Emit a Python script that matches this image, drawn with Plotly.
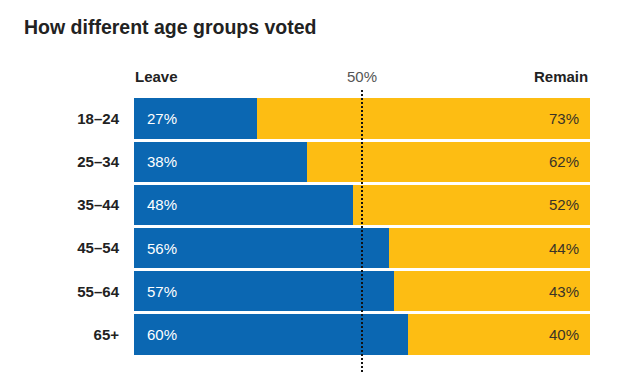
import plotly.graph_objects as go

age_groups = ["18–24", "25–34", "35–44", "45–54", "55–64", "65+"]
leave = [27, 38, 48, 56, 57, 60]
remain = [73, 62, 52, 44, 43, 40]

BLUE = "#0b67b2"
YELLOW = "#fdbd13"
FONT = "Liberation Sans, Arial, Helvetica, sans-serif"

# page body has an 8px default margin; size the figure to fill the rest
W, H = 616, 365
OFF = 8
PLOT_TOP = 97 - OFF
PLOT_H = H - PLOT_TOP - 17

fig = go.Figure()
fig.add_trace(go.Bar(y=age_groups, x=leave, orientation="h", marker=dict(color=BLUE, line=dict(width=0)),
                     name="Leave", hoverinfo="skip"))
fig.add_trace(go.Bar(y=age_groups, x=remain, orientation="h", marker=dict(color=YELLOW, line=dict(width=0)),
                     name="Remain", hoverinfo="skip"))

annotations = []
for g, l, r in zip(age_groups, leave, remain):
    annotations.append(dict(x=0, y=g, xref="x", yref="y", text=f"{l}%", showarrow=False,
                            xanchor="left", xshift=11, font=dict(family=FONT, size=15, color="white")))
    annotations.append(dict(x=l + r, y=g, xref="x", yref="y", text=f"{r}%", showarrow=False,
                            xanchor="right", xshift=-9, font=dict(family=FONT, size=15, color="#3a3327")))

hdr_y = 1 + (97 - 76.5) / PLOT_H
annotations += [
    dict(x=0, y=hdr_y, xref="paper", yref="paper", text="<b>Leave</b>", showarrow=False,
         xanchor="left", yanchor="middle", xshift=-1, font=dict(family=FONT, size=15, color="#222")),
    dict(x=1, y=hdr_y, xref="paper", yref="paper", text="<b>Remain</b>", showarrow=False,
         xanchor="right", yanchor="middle", font=dict(family=FONT, size=15, color="#222")),
    dict(x=0.5, y=hdr_y, xref="paper", yref="paper", text="50%", showarrow=False,
         xanchor="center", yanchor="middle", font=dict(family=FONT, size=15, color="#555")),
]

fig.add_shape(type="line", xref="paper", yref="paper", x0=0.5, x1=0.5,
              y0=-20 / PLOT_H, y1=1 + 8 / PLOT_H,
              line=dict(color="#111", width=2, dash="2px,2px"), layer="above")

fig.update_layout(
    width=W, height=H,
    margin=dict(l=134 - OFF, r=34, t=PLOT_TOP, b=17),
    paper_bgcolor="white", plot_bgcolor="white",
    barmode="stack", bargap=0.065, showlegend=False,
    title=dict(text="<b>How different age groups voted</b>", x=(24 - OFF) / W, xanchor="left",
               xref="container", yref="container", y=1 - (27 - OFF) / H, yanchor="middle",
               font=dict(family=FONT, size=19.5, color="#222")),
    xaxis=dict(range=[0, 100], visible=False, fixedrange=True),
    yaxis=dict(autorange="reversed", tickvals=age_groups, ticktext=[f"<b>{g}</b>" for g in age_groups],
               tickfont=dict(family=FONT, size=15, color="#222"), ticks="", showline=False,
               showgrid=False, ticklabelstandoff=14, fixedrange=True),
    annotations=annotations,
)

fig.write_html("out.html")
